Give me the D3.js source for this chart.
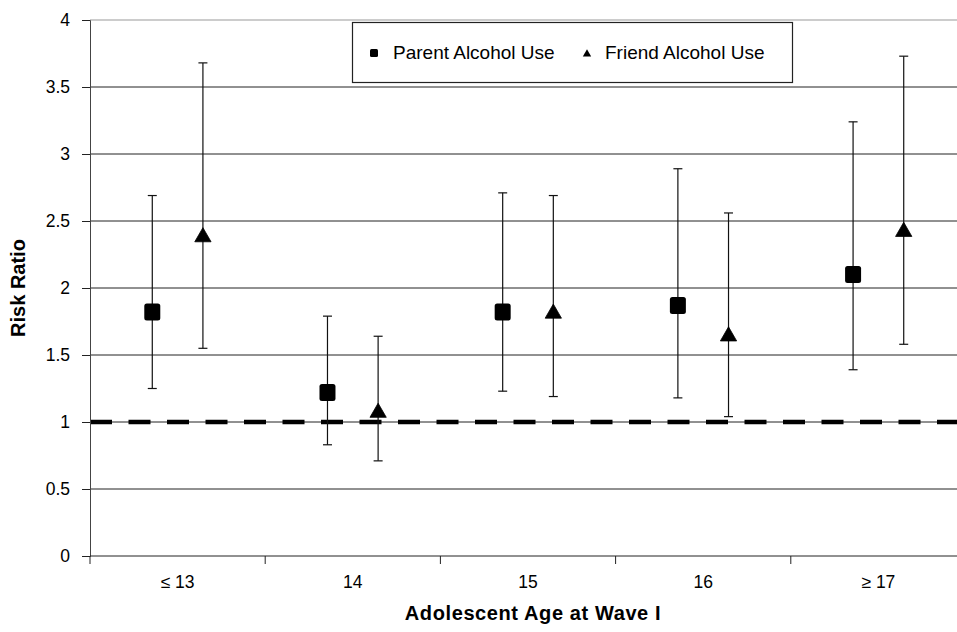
<!DOCTYPE html>
<html>
<head>
<meta charset="utf-8">
<script src="https://cdn.jsdelivr.net/npm/d3@7"></script>
<style>
  body { margin: 0; background: #fff; }
  text { font-family: "Liberation Sans", Arial, sans-serif; fill: #000; }
</style>
</head>
<body>
<div id="chart"></div>
<script>
// values
const categories = ["≤ 13", "14", "15", "16", "≥ 17"];
const parentRR   = [1.82, 1.22, 1.82, 1.87, 2.10];
const parentLow  = [1.25, 0.83, 1.23, 1.18, 1.39];
const parentHigh = [2.69, 1.79, 2.71, 2.89, 3.24];
const friendRR   = [2.38, 1.07, 1.81, 1.64, 2.42];
const friendLow  = [1.55, 0.71, 1.19, 1.04, 1.58];
const friendHigh = [3.68, 1.64, 2.69, 2.56, 3.73];
const yTicks = [0, 0.5, 1, 1.5, 2, 2.5, 3, 3.5, 4];
const seriesNames = ["Parent Alcohol Use", "Friend Alcohol Use"];

const width = 957, height = 632;
const margin = {left: 90, top: 20, bottom: 76};
const plotRight = 966;   // plot area runs past the right edge in the reference

let svg = d3.select("#chart")
    .append("svg")
    .attr("width", width)
    .attr("height", height);

let x = d3.scaleBand()
    .domain(categories)
    .range([margin.left, plotRight]);

let xSub = d3.scalePoint()
    .domain(["parent", "friend"])
    .range([0, x.bandwidth()])
    .padding(1.23);

let y = d3.scaleLinear()
    .domain([0, 4])
    .range([height - margin.bottom, margin.top]);

// gridlines
svg.append("g")
    .selectAll("line")
    .data(yTicks.filter(d => d > 0))
    .enter()
    .append("line")
    .attr("x1", margin.left)
    .attr("x2", plotRight)
    .attr("y1", d => y(d))
    .attr("y2", d => y(d))
    .attr("stroke", d => d === 4 ? "#999" : "#222")
    .attr("stroke-width", 1);

// reference line at 1
svg.append("line")
    .attr("x1", margin.left)
    .attr("x2", plotRight)
    .attr("y1", y(1))
    .attr("y2", y(1))
    .attr("stroke", "#000")
    .attr("stroke-width", 4.5)
    .attr("stroke-dasharray", "22,16.5");

// y axis
let yAxis = svg.append("g")
    .attr("transform", `translate(${margin.left}, 0)`)
    .call(d3.axisLeft(y).tickValues(yTicks).tickFormat(d3.format("")).tickSize(8).tickPadding(12));
yAxis.select(".domain").attr("stroke", "#444");
yAxis.selectAll(".tick line").attr("stroke", "#222");
yAxis.selectAll("text").style("font-size", "17.5px").attr("fill", "#000");

// x axis, ticks sit on the category boundaries
let xAxisG = svg.append("g")
    .attr("transform", `translate(0, ${y(0)})`);
xAxisG.append("line")
    .attr("x1", margin.left)
    .attr("x2", plotRight)
    .attr("stroke", "#222");
xAxisG.selectAll(".bound")
    .data(categories)
    .enter()
    .append("line")
    .attr("class", "bound")
    .attr("x1", d => x(d))
    .attr("x2", d => x(d))
    .attr("y1", 0)
    .attr("y2", 8)
    .attr("stroke", "#222");
xAxisG.selectAll(".lbl")
    .data(categories)
    .enter()
    .append("text")
    .attr("class", "lbl")
    .attr("x", d => x(d) + x.bandwidth() / 2)
    .attr("y", 32)
    .style("text-anchor", "middle")
    .style("font-size", "17.5px")
    .text(d => d);

// build point rows
let rows = [];
categories.forEach(function(c, i) {
    rows.push({cat: c, s: "parent", v: parentRR[i], lo: parentLow[i], hi: parentHigh[i]});
    rows.push({cat: c, s: "friend", v: friendRR[i], lo: friendLow[i], hi: friendHigh[i]});
});
const px = d => x(d.cat) + xSub(d.s);

// error bars
let bars = svg.append("g").selectAll("g").data(rows).enter().append("g");
bars.append("line")
    .attr("x1", px).attr("x2", px)
    .attr("y1", d => y(d.lo)).attr("y2", d => y(d.hi))
    .attr("stroke", "#111").attr("stroke-width", 1.2);
bars.append("line")
    .attr("x1", d => px(d) - 4.5).attr("x2", d => px(d) + 4.5)
    .attr("y1", d => y(d.hi)).attr("y2", d => y(d.hi))
    .attr("stroke", "#111").attr("stroke-width", 1.2);
bars.append("line")
    .attr("x1", d => px(d) - 4.5).attr("x2", d => px(d) + 4.5)
    .attr("y1", d => y(d.lo)).attr("y2", d => y(d.lo))
    .attr("stroke", "#111").attr("stroke-width", 1.2);

// markers
svg.append("g").selectAll("rect")
    .data(rows.filter(d => d.s === "parent"))
    .enter()
    .append("rect")
    .attr("x", d => px(d) - 8)
    .attr("y", d => y(d.v) - 8.5)
    .attr("width", 16)
    .attr("height", 17)
    .attr("rx", 2.5)
    .attr("fill", "#000");

svg.append("g").selectAll("path")
    .data(rows.filter(d => d.s === "friend"))
    .enter()
    .append("path")
    .attr("transform", d => `translate(${px(d)}, ${y(d.v)})`)
    .attr("d", d3.symbol().type(d3.symbolTriangle).size(115))
    .attr("fill", "#000")
    .attr("stroke", "#000")
    .attr("stroke-width", 0.8)
    .attr("stroke-linejoin", "round");

// legend
let legend = svg.append("g");
legend.append("rect")
    .attr("x", 352.5).attr("y", 22.5)
    .attr("width", 440).attr("height", 60)
    .attr("fill", "#fff")
    .attr("stroke", "#222")
    .attr("stroke-width", 1.2);
legend.append("rect")
    .attr("x", 370).attr("y", 49)
    .attr("width", 8).attr("height", 8)
    .attr("rx", 1.5)
    .attr("fill", "#000");
legend.append("path")
    .attr("transform", "translate(587, 54)")
    .attr("d", d3.symbol().type(d3.symbolTriangle).size(30))
    .attr("fill", "#000");
legend.selectAll("text")
    .data(seriesNames)
    .enter()
    .append("text")
    .attr("x", (d, i) => i === 0 ? 393 : 605)
    .attr("y", 59)
    .style("font-size", "19px")
    .text(d => d);

// axis titles
svg.append("text")
    .attr("transform", `translate(25, ${y(2)})rotate(-90)`)
    .style("text-anchor", "middle")
    .style("font-size", "20px")
    .style("font-weight", "bold")
    .text("Risk Ratio");

svg.append("text")
    .attr("x", 533)
    .attr("y", 620)
    .style("text-anchor", "middle")
    .style("font-size", "20px")
    .style("font-weight", "bold")
    .style("letter-spacing", "0.6px")
    .text("Adolescent Age at Wave I");
</script>
</body>
</html>
